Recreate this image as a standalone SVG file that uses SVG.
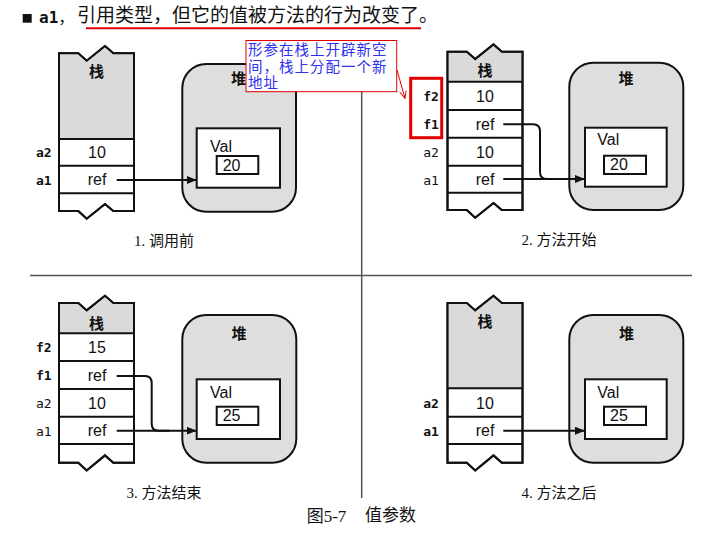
<svg xmlns="http://www.w3.org/2000/svg" width="713" height="536" viewBox="0 0 713 536">
<defs>
<style>
.stk{fill:#fff;stroke:#111;stroke-width:2;stroke-linejoin:miter}
.hdr{fill:#dadada;stroke:none}
.row{stroke:#111;stroke-width:2}
.heap{fill:#dedede;stroke:#111;stroke-width:2}
.box{fill:#fff;stroke:#111;stroke-width:2}
.cjk{font-family:"Noto Sans CJK SC",sans-serif;font-size:15px;font-weight:bold;fill:#111;text-anchor:middle}
.val{font-family:"Liberation Sans",Arial,sans-serif;font-size:16px;fill:#111}
.cell{font-family:"Liberation Sans",Arial,sans-serif;font-size:16px;fill:#111;text-anchor:middle}
.lbl{font-family:"DejaVu Sans Mono",monospace;font-size:13px;fill:#111}
.lblb{font-family:"DejaVu Sans Mono",monospace;font-size:13px;font-weight:bold;fill:#111}
.cap{font-family:"Liberation Serif","Noto Sans CJK SC",serif;font-size:15px;fill:#111;text-anchor:middle}
.conn{fill:none;stroke:#111;stroke-width:2}
.div{stroke:#555;stroke-width:1.5}
.note{font-family:"Noto Sans CJK SC",sans-serif;font-size:14.5px;letter-spacing:1px;fill:#3030f0}
</style>
<marker id="ah" viewBox="0 0 10 8" refX="10" refY="4" markerWidth="10" markerHeight="8" markerUnits="userSpaceOnUse" orient="auto">
<path d="M0,0 L10,4 L0,8 Z" fill="#111"/>
</marker>
<marker id="rah" viewBox="0 0 10 10" refX="9" refY="5" markerWidth="8" markerHeight="8" markerUnits="userSpaceOnUse" orient="auto">
<path d="M0,1 L9,5 L0,9" fill="none" stroke="#e00000" stroke-width="1.2"/>
</marker>
</defs>
<rect width="713" height="536" fill="#fff"/>

<g id="title">
<rect x="22.7" y="14" width="9" height="8.7" fill="#111"/>
<text x="39" y="22.5" style="font-family:'DejaVu Sans Mono',monospace;font-size:16px;font-weight:bold;fill:#111">a1<tspan style="font-family:'Noto Sans CJK SC',sans-serif;font-weight:normal">，</tspan></text>
<text x="77" y="22" style="font-family:'Noto Sans CJK SC',sans-serif;font-size:19px;fill:#111">引用类型，但它的值被方法的行为改变了。</text>
<line x1="86" y1="28.3" x2="421" y2="28.3" stroke="#e00000" stroke-width="2"/>
</g>

<g id="dividers">
<line class="div" x1="30" y1="275.5" x2="692" y2="275.5"/>
<line class="div" x1="361.7" y1="42" x2="361.7" y2="498"/>
</g>

<!-- Panel 1 -->
<g id="p1-stack">
<path class="stk" d="M59,53.3 H78.3 L86.7,60.7 L105,46 L113.3,53.3 H134 V211 H113.3 L105,204 L86.7,218.7 L78.3,211 H59 Z"/>
<path class="hdr" d="M60,54.3 H78 L86.7,61.7 L105,47.2 L113,54.3 H133 V139 H60 Z"/>
<line class="row" x1="59" y1="139" x2="134" y2="139"/>
<line class="row" x1="59" y1="165.7" x2="134" y2="165.7"/>
<line class="row" x1="59" y1="193.3" x2="134" y2="193.3"/>
<path class="stk" style="fill:none" d="M59,53.3 H78.3 L86.7,60.7 L105,46 L113.3,53.3 H134 V211 H113.3 L105,204 L86.7,218.7 L78.3,211 H59 Z"/>
<text class="cjk" x="96.5" y="77">栈</text>
<text class="cell" x="97" y="158">10</text>
<text class="cell" x="97" y="185">ref</text>
<text class="lblb" x="36" y="157">a2</text>
<text class="lblb" x="36" y="184.5">a1</text>
</g>
<g id="p1-heap">
<rect class="heap" x="182.3" y="64" width="113.7" height="147.7" rx="24"/>
<text class="cjk" x="238.5" y="83.5">堆</text>
<rect class="box" x="196.7" y="128.3" width="83.3" height="59.4"/>
<text class="val" x="210" y="152">Val</text>
<rect class="box" x="216.7" y="156" width="41.6" height="18"/>
<text class="val" x="222.7" y="171">20</text>
</g>
<text class="cap" x="164" y="246">1. 调用前</text>

<!-- Panel 2 -->
<g id="p2-stack">
<path class="stk" d="M447.5,51.7 H466.8 L475.2,59.1 L493.5,44.4 L501.8,51.7 H522.5 V210 H501.8 L493.5,203 L475.2,217.7 L466.8,210 H447.5 Z"/>
<path class="hdr" d="M448.5,52.7 H466.5 L475.2,60.1 L493.5,45.6 L501.5,52.7 H521.5 V81.7 H448.5 Z"/>
<line class="row" x1="447.5" y1="81.7" x2="522.5" y2="81.7"/>
<line class="row" x1="447.5" y1="110" x2="522.5" y2="110"/>
<line class="row" x1="447.5" y1="137.7" x2="522.5" y2="137.7"/>
<line class="row" x1="447.5" y1="165.7" x2="522.5" y2="165.7"/>
<line class="row" x1="447.5" y1="192.7" x2="522.5" y2="192.7"/>
<path class="stk" style="fill:none" d="M447.5,51.7 H466.8 L475.2,59.1 L493.5,44.4 L501.8,51.7 H522.5 V210 H501.8 L493.5,203 L475.2,217.7 L466.8,210 H447.5 Z"/>
<text class="cjk" x="485" y="75.5">栈</text>
<text class="cell" x="485" y="101.5">10</text>
<text class="cell" x="485" y="129.5">ref</text>
<text class="cell" x="485" y="157.5">10</text>
<text class="cell" x="485" y="185">ref</text>
<text class="lblb" x="423.3" y="101">f2</text>
<text class="lblb" x="423.3" y="129">f1</text>
<text class="lbl" x="423.3" y="157">a2</text>
<text class="lbl" x="423.3" y="184.5">a1</text>
</g>
<g id="p2-heap">
<rect class="heap" x="569.3" y="62.7" width="114" height="147.3" rx="24"/>
<text class="cjk" x="626" y="84">堆</text>
<rect class="box" x="585" y="127.7" width="81.7" height="59"/>
<text class="val" x="597.3" y="145">Val</text>
<rect class="box" x="604" y="155.7" width="42" height="18.3"/>
<text class="val" x="610" y="170">20</text>
</g>
<text class="cap" x="559" y="245">2. 方法开始</text>

<!-- Panel 3 -->
<g id="p3-stack">
<path class="stk" d="M59,303 H78.3 L86.7,310.4 L105,295.7 L113.3,303 H134 V462.7 H113.3 L105,455.4 L86.7,470.4 L78.3,462.7 H59 Z"/>
<path class="hdr" d="M60,304 H78 L86.7,311.4 L105,296.9 L113,304 H133 V333.3 H60 Z"/>
<line class="row" x1="59" y1="333.3" x2="134" y2="333.3"/>
<line class="row" x1="59" y1="361" x2="134" y2="361"/>
<line class="row" x1="59" y1="389" x2="134" y2="389"/>
<line class="row" x1="59" y1="416.7" x2="134" y2="416.7"/>
<line class="row" x1="59" y1="444" x2="134" y2="444"/>
<path class="stk" style="fill:none" d="M59,303 H78.3 L86.7,310.4 L105,295.7 L113.3,303 H134 V462.7 H113.3 L105,455.4 L86.7,470.4 L78.3,462.7 H59 Z"/>
<text class="cjk" x="96.5" y="329">栈</text>
<text class="cell" x="97" y="352.8">15</text>
<text class="cell" x="97" y="380.8">ref</text>
<text class="cell" x="97" y="408.5">10</text>
<text class="cell" x="97" y="436">ref</text>
<text class="lblb" x="36" y="352.3">f2</text>
<text class="lblb" x="36" y="380.3">f1</text>
<text class="lbl" x="36" y="408">a2</text>
<text class="lbl" x="36" y="435.6">a1</text>
</g>
<g id="p3-heap">
<rect class="heap" x="182.3" y="315" width="114" height="147.7" rx="24"/>
<text class="cjk" x="239" y="339">堆</text>
<rect class="box" x="196.7" y="379.3" width="83.3" height="59.7"/>
<text class="val" x="210" y="398.3">Val</text>
<rect class="box" x="216.7" y="406.7" width="41.6" height="18.3"/>
<text class="val" x="222.7" y="421">25</text>
</g>
<text class="cap" x="164" y="497.7">3. 方法结束</text>

<!-- Panel 4 -->
<g id="p4-stack">
<path class="stk" d="M447.5,303 H466.8 L475.2,310.4 L493.5,295.7 L501.8,303 H522.5 V462.7 H501.8 L493.5,455.4 L475.2,470.4 L466.8,462.7 H447.5 Z"/>
<path class="hdr" d="M448.5,304 H466.5 L475.2,311.4 L493.5,296.9 L501.5,304 H521.5 V388.3 H448.5 Z"/>
<line class="row" x1="447.5" y1="388.3" x2="522.5" y2="388.3"/>
<line class="row" x1="447.5" y1="416.7" x2="522.5" y2="416.7"/>
<line class="row" x1="447.5" y1="444" x2="522.5" y2="444"/>
<path class="stk" style="fill:none" d="M447.5,303 H466.8 L475.2,310.4 L493.5,295.7 L501.8,303 H522.5 V462.7 H501.8 L493.5,455.4 L475.2,470.4 L466.8,462.7 H447.5 Z"/>
<text class="cjk" x="485" y="327">栈</text>
<text class="cell" x="485" y="408.5">10</text>
<text class="cell" x="485" y="436">ref</text>
<text class="lblb" x="423.3" y="408">a2</text>
<text class="lblb" x="423.3" y="435.6">a1</text>
</g>
<g id="p4-heap">
<rect class="heap" x="569.3" y="315" width="114" height="147.7" rx="24"/>
<text class="cjk" x="626.5" y="339">堆</text>
<rect class="box" x="585" y="379.3" width="81.7" height="59.7"/>
<text class="val" x="597.3" y="398.3">Val</text>
<rect class="box" x="604" y="406.7" width="42" height="18.3"/>
<text class="val" x="610" y="421">25</text>
</g>
<text class="cap" x="559" y="497.7">4. 方法之后</text>

<g id="connectors">
<path class="conn" d="M116.7,180 H196.7" marker-end="url(#ah)"/>
<path class="conn" d="M503.3,179 H585" marker-end="url(#ah)"/>
<path class="conn" d="M503.3,124.3 H533 Q540,124.3 540,131.3 V172 Q540,179 547,179 H560"/>
<path class="conn" d="M116.7,430.7 H196.7" marker-end="url(#ah)"/>
<path class="conn" d="M116.7,376 H145 Q151.7,376 151.7,383 V424 Q151.7,430.7 158.4,430.7 H170"/>
<path class="conn" d="M503.3,430.7 H585" marker-end="url(#ah)"/>
</g>

<g id="annotation">
<rect x="410.7" y="78.3" width="31" height="59.4" fill="none" stroke="#e00000" stroke-width="3"/>
<rect x="246" y="40.5" width="150.7" height="51.2" fill="#fff" stroke="#e00000" stroke-width="1"/>
<text class="note" x="248" y="55">形参在栈上开辟新空</text>
<text class="note" x="248" y="71.5">间，栈上分配一个新</text>
<text class="note" x="248" y="88">地址</text>
<line x1="397" y1="70" x2="405" y2="98.3" stroke="#e00000" stroke-width="1" marker-end="url(#rah)"/>
</g>

<g id="caption">
<text x="306.7" y="521.5" style="font-family:'Liberation Serif','Noto Sans CJK SC',serif;font-size:17px;fill:#111">图5-7</text>
<text x="365" y="520.7" style="font-family:'Noto Sans CJK SC',sans-serif;font-size:17px;fill:#111">值参数</text>
</g>
</svg>
